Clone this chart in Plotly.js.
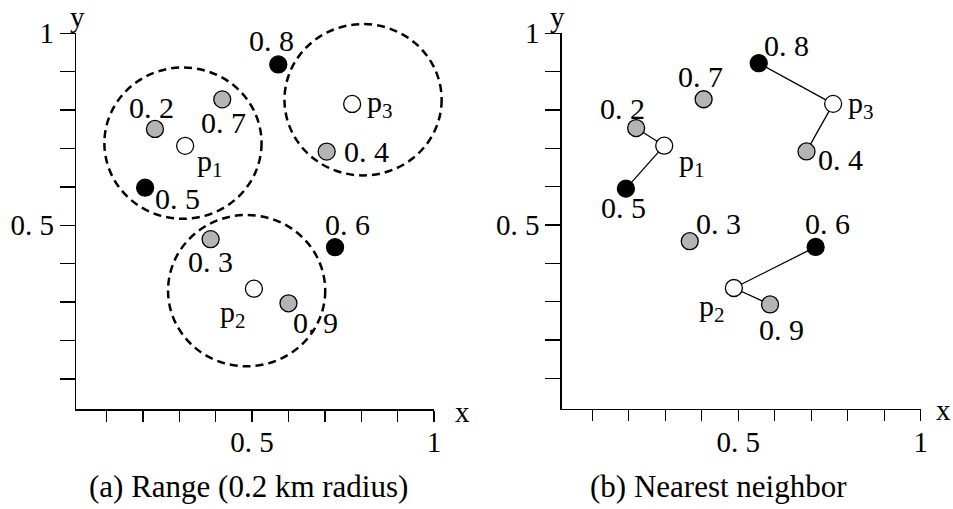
<!DOCTYPE html>
<html><head><meta charset="utf-8">
<script src="https://cdn.plot.ly/plotly-3.0.1.min.js"></script>
<style>html,body{margin:0;padding:0;background:#fff}#chart{width:953px;height:509px}</style>
</head><body><div id="chart"></div>
<script>
// ---- data ----
const pointLabels = ['p<sub>1</sub>','p<sub>2</sub>','p<sub>3</sub>','0. 2','0. 3','0. 4','0. 5','0. 6','0. 7','0. 8','0. 9'];
const pointKinds  = ['query','query','query','gray','gray','gray','black','black','gray','black','gray'];
const leftX  = [0.316,0.505,0.775,0.233,0.386,0.705,0.206,0.728,0.418,0.572,0.600];
const leftY  = [0.707,0.335,0.816,0.751,0.464,0.692,0.598,0.443,0.828,0.919,0.297];
const rightX = [0.297,0.488,0.760,0.220,0.367,0.687,0.192,0.712,0.405,0.556,0.587];
const rightY = [0.707,0.336,0.816,0.753,0.458,0.692,0.595,0.443,0.828,0.922,0.293];
const rangeCenterX = [0.310,0.485,0.805];
const rangeCenterY = [0.714,0.330,0.827];
const rangeRadiusX = 0.216;
const rangeRadiusY = 0.197;
// nearest-neighbour links (indices into the point arrays)
const nnPairs = [[0,3],[0,6],[1,7],[1,10],[2,9],[2,5]];
const majorTickVals = [0.5,1];
const majorTickText = ['0. 5','1'];
const minorTickVals = [0.1,0.2,0.3,0.4,0.6,0.7,0.8,0.9];
const titleA = '(a) Range (0.2 km radius)';
const titleB = '(b) Nearest neighbor';

// ---- styles / layout geometry ----
const FONT = 'Liberation Serif, Times New Roman, serif';
const kindColor = {query:'#ffffff', gray:'#b4b4b4', black:'#000000'};
const leftOff  = [[25,17],[-21,25],[28,0],[-3,-21],[0,22],[40,0],[32,11],[12,-23],[1,23],[-7,-24],[27,19]];
const rightOff = [[28,17],[-22,20],[28,1],[-14,-20],[29,-18],[34,8],[-2,19],[12,-23],[-3,-23],[28,-18],[11,25]];
const W=953,H=509;
const XR=[0.016,1.0], YR=[0.021,1.0];
const L={x0:76,x1:434,yb:409.3,yt:33.3};
const R={x0:561.7,x1:920.7,yb:408.8,yt:33.3};

const traces = [];
const lx=[], ly=[];
nnPairs.forEach(([a,b])=>{ lx.push(rightX[a],rightX[b],null); ly.push(rightY[a],rightY[b],null); });
traces.push({x:lx,y:ly,xaxis:'x2',yaxis:'y2',mode:'lines',line:{color:'#000',width:1.3},hoverinfo:'skip',showlegend:false});
function pts(xs,ys,xa,ya){
  return {x:xs,y:ys,xaxis:xa,yaxis:ya,mode:'markers',showlegend:false,
    marker:{size:17,color:pointKinds.map(k=>kindColor[k]),line:{color:'#000',width:1.3}}};
}
traces.push({x:[],y:[],xaxis:'x3',yaxis:'y3',mode:'markers',showlegend:false});
traces.push(pts(leftX,leftY,'x','y'));
traces.push(pts(rightX,rightY,'x2','y2'));

const annotations = [];
function addLabels(xs,ys,offs,xr,yr){
  xs.forEach((x,i)=>annotations.push({x:x,y:ys[i],xref:xr,yref:yr,text:pointLabels[i],showarrow:false,
    xshift:offs[i][0],yshift:-offs[i][1],font:{family:FONT,size:30,color:'#000'}}));
}
addLabels(leftX,leftY,leftOff,'x','y');
addLabels(rightX,rightY,rightOff,'x2','y2');
function paperText(t,px,py,size){
  annotations.push({x:px/W,y:1-py/H,xref:'paper',yref:'paper',text:t,showarrow:false,xanchor:'center',yanchor:'middle',
    font:{family:FONT,size:size,color:'#000'}});
}
paperText('y',77,17,29); paperText('y',557,17,29);
paperText('x',462,412,29); paperText('x',943,410,29);
paperText(titleA,248,486,31); paperText(titleB,718,486,31);

const shapes = rangeCenterX.map((cx,i)=>({type:'circle',xref:'x3',yref:'y3',layer:'below',
  x0:cx-rangeRadiusX,x1:cx+rangeRadiusX,y0:rangeCenterY[i]-rangeRadiusY,y1:rangeCenterY[i]+rangeRadiusY,
  line:{color:'#000',width:2.5,dash:'8px,5px'}}));

const minor = {tickvals:minorTickVals,ticks:'outside',tickwidth:1.3,tickcolor:'#000',showgrid:false};
function xax(g){return {domain:[g.x0/W,g.x1/W],range:XR,showline:true,linecolor:'#000',linewidth:1.3,ticks:'outside',ticklen:11,tickwidth:1.3,tickcolor:'#000',
  tickvals:majorTickVals,ticktext:majorTickText,minor:Object.assign({ticklen:11},minor),showgrid:false,zeroline:false,
  tickfont:{family:FONT,size:29,color:'#000'},ticklabelstandoff:-4,fixedrange:true};}
function yax(g){return {domain:[(H-g.yb)/H,(H-g.yt)/H],range:YR,showline:true,linecolor:'#000',linewidth:1.3,ticks:'outside',ticklen:15,tickwidth:1.3,tickcolor:'#000',
  tickvals:majorTickVals,ticktext:majorTickText,minor:Object.assign({ticklen:15},minor),showgrid:false,zeroline:false,
  tickfont:{family:FONT,size:29,color:'#000'},ticklabelstandoff:0,fixedrange:true};}
// invisible helper axes with the same scale as panel (a), extended so the range circles are not clipped
const pxX=(L.x1-L.x0)/(XR[1]-XR[0]), pxY=(L.yb-L.yt)/(YR[1]-YR[0]);
const extX=0.08, extY=0.06;
const layout = {width:W,height:H,margin:{l:0,r:0,t:0,b:0},paper_bgcolor:'#fff',plot_bgcolor:'rgba(0,0,0,0)',showlegend:false,
  xaxis:Object.assign(xax(L),{anchor:'y'}),
  yaxis:Object.assign(yax(L),{anchor:'x'}),
  xaxis2:Object.assign(xax(R),{anchor:'y2'}),
  yaxis2:Object.assign(yax(R),{anchor:'x2'}),
  xaxis3:{visible:false,anchor:'y3',domain:[L.x0/W,(L.x1+extX*pxX)/W],range:[XR[0],XR[1]+extX],fixedrange:true},
  yaxis3:{visible:false,anchor:'x3',domain:[(H-L.yb)/H,(H-L.yt+extY*pxY)/H],range:[YR[0],YR[1]+extY],fixedrange:true},
  annotations:annotations,shapes:shapes};
Plotly.newPlot('chart',traces,layout,{staticPlot:true,displayModeBar:false});
</script></body></html>
